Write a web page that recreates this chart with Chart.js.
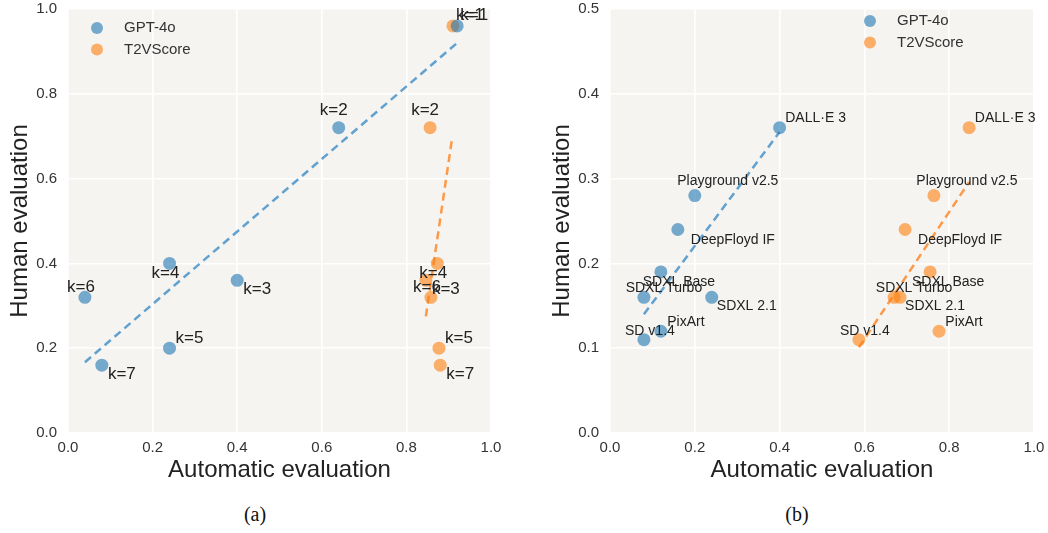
<!DOCTYPE html>
<html>
<head>
<meta charset="utf-8">
<script src="https://cdn.jsdelivr.net/npm/chart.js@4/dist/chart.umd.min.js"></script>
<style>
  html, body { margin: 0; padding: 0; background: #fff; }
  body { width: 1048px; height: 533px; position: relative; overflow: hidden; }
  .panel { position: absolute; top: 0; height: 490px; }
  #panelA { left: 0; width: 520px; }
  #panelB { left: 542px; width: 506px; }
  .caption { position: absolute; top: 503px; font: 20px "Liberation Serif", "DejaVu Serif", serif; color: #111; transform: translateX(-50%); }
</style>
</head>
<body>
<div class="panel" id="panelA"><canvas id="chartA"></canvas></div>
<div class="panel" id="panelB"><canvas id="chartB"></canvas></div>
<div class="caption" style="left:255px">(a)</div>
<div class="caption" style="left:797px">(b)</div>
<script>
// (a) number of frames k
const kLabels = ["k=1", "k=2", "k=3", "k=4", "k=5", "k=6", "k=7"];
const humanA = [0.96, 0.72, 0.36, 0.40, 0.20, 0.32, 0.16];
const gptA = [0.92, 0.64, 0.40, 0.24, 0.24, 0.04, 0.08];
const t2vA = [0.91, 0.856, 0.846, 0.873, 0.877, 0.858, 0.88];
const gptFitAX = [0.04, 0.92];
const gptFitAY = [0.167, 0.92];
const t2vFitAX = [0.846, 0.908];
const t2vFitAY = [0.275, 0.695];

// (b) models
const modelLabels = ["DALL·E 3", "Playground v2.5", "DeepFloyd IF", "SDXL Base", "SDXL Turbo", "SDXL 2.1", "PixArt", "SD v1.4"];
const humanB = [0.36, 0.28, 0.24, 0.19, 0.16, 0.16, 0.12, 0.11];
const gptB = [0.40, 0.20, 0.16, 0.12, 0.08, 0.24, 0.12, 0.08];
const t2vB = [0.847, 0.764, 0.696, 0.755, 0.67, 0.684, 0.776, 0.587];
const gptFitBX = [0.08, 0.40];
const gptFitBY = [0.14, 0.355];
const t2vFitBX = [0.587, 0.847];
const t2vFitBY = [0.101, 0.296];

const xTicks = [0, 0.2, 0.4, 0.6, 0.8, 1.0];
const yTicksA = [0, 0.2, 0.4, 0.6, 0.8, 1.0];
const yTicksB = [0, 0.1, 0.2, 0.3, 0.4, 0.5];

// label placement (text centre relative to the point, px)
const kOffsets = [[17, -11], [-5, -17], [20, 9], [-4, 10], [20, -10], [-4, -10], [20, 9]];
const modelOffsets = [[36, -10], [33, -14], [55, 11], [18, 10], [20, -9], [35, 9], [25, -9], [6, -9]];

const BLUE = "rgba(31,119,180,0.6)";
const ORANGE = "rgba(255,127,14,0.6)";
const BLUE_LINE = "rgba(60,140,200,0.8)";
const ORANGE_LINE = "rgba(255,130,30,0.8)";

Chart.defaults.font.family = '"Liberation Sans", Arial, sans-serif';
Chart.defaults.animation = false;

const zip = (xs, ys) => xs.map((x, i) => ({ x, y: ys[i] }));

const bgPlugin = {
  id: "plotBg",
  beforeDraw(chart) {
    const { ctx, chartArea: a } = chart;
    ctx.save();
    ctx.fillStyle = "#f5f4f1";
    ctx.fillRect(a.left, a.top, a.right - a.left, a.bottom - a.top);
    ctx.restore();
  },
};

const labelPlugin = {
  id: "pointLabels",
  afterDatasetsDraw(chart, args, opts) {
    const ctx = chart.ctx;
    ctx.save();
    ctx.font = opts.font;
    ctx.fillStyle = "#222";
    ctx.textAlign = "center";
    ctx.textBaseline = "middle";
    chart.data.datasets.forEach((ds, i) => {
      if (!ds.pointNames) return;
      chart.getDatasetMeta(i).data.forEach((pt, j) => {
        const [dx, dy] = opts.offsets[j];
        ctx.fillText(ds.pointNames[j], pt.x + dx, pt.y + dy);
      });
    });
    ctx.restore();
  },
};

const legendPlugin = {
  id: "innerLegend",
  afterDraw(chart, args, opts) {
    const { ctx, chartArea: a } = chart;
    const items = chart.data.datasets.filter((d) => d.pointNames);
    ctx.save();
    ctx.font = '15px "Liberation Sans", Arial, sans-serif';
    ctx.textBaseline = "middle";
    ctx.textAlign = "left";
    items.forEach((d, i) => {
      const y = a.top + opts.y + i * 21.5;
      ctx.fillStyle = d.backgroundColor;
      ctx.beginPath();
      ctx.arc(a.left + opts.x, y, 6, 0, Math.PI * 2);
      ctx.fill();
      ctx.fillStyle = "#333";
      ctx.fillText(d.label, a.left + opts.x + 27, y);
    });
    ctx.restore();
  },
};

function makeChart(id, cfg) {
  const tickFont = { size: 15 };
  return new Chart(document.getElementById(id), {
    type: "scatter",
    data: {
      datasets: [
        { label: "GPT-4o", data: zip(cfg.gpt, cfg.human), pointNames: cfg.names,
          backgroundColor: BLUE, pointRadius: 6.5, pointBorderWidth: 0, order: 1 },
        { label: "T2VScore", data: zip(cfg.t2v, cfg.human), pointNames: cfg.names,
          backgroundColor: ORANGE, pointRadius: 6.5, pointBorderWidth: 0, order: 1 },
        { label: "gpt fit", data: zip(cfg.gptFitX, cfg.gptFitY), showLine: true,
          borderColor: BLUE_LINE, borderWidth: 2.5, borderDash: [8, 5], pointRadius: 0, order: 2 },
        { label: "t2v fit", data: zip(cfg.t2vFitX, cfg.t2vFitY), showLine: true,
          borderColor: ORANGE_LINE, borderWidth: 2.5, borderDash: [8, 5], pointRadius: 0, order: 2 },
      ],
    },
    options: {
      responsive: true,
      maintainAspectRatio: false,
      layout: { padding: { top: 9, right: cfg.padRight, left: 0, bottom: 0 } },
      scales: {
        x: {
          type: "linear", min: 0, max: 1,
          afterBuildTicks: (s) => { s.ticks = xTicks.map((v) => ({ value: v })); },
          afterFit: (s) => { s.height = 57; s.paddingLeft = 0; s.paddingRight = 0; },
          grid: { color: "#ffffff", lineWidth: 1.6, drawTicks: false },
          border: { display: false },
          ticks: { padding: 6, color: "#333", font: tickFont, callback: (v) => v.toFixed(1) },
          title: { display: true, text: "Automatic evaluation", color: "#222",
            font: { size: 24 }, padding: { top: 0, bottom: 5 } },
        },
        y: {
          type: "linear", min: 0, max: cfg.yMax,
          afterBuildTicks: (s) => { s.ticks = cfg.yTicks.map((v) => ({ value: v })); },
          afterFit: (s) => { s.width = 68; s.paddingTop = 0; s.paddingBottom = 0; },
          grid: { color: "#ffffff", lineWidth: 1.6, drawTicks: false },
          border: { display: false },
          ticks: { padding: 11, color: "#333", font: tickFont, callback: (v) => v.toFixed(1) },
          title: { display: true, text: "Human evaluation", color: "#222",
            font: { size: 24 }, padding: { top: 6, bottom: 0 } },
        },
      },
      plugins: {
        legend: { display: false },
        tooltip: { enabled: false },
        pointLabels: { font: cfg.labelFont, offsets: cfg.offsets },
        innerLegend: cfg.legend,
      },
    },
    plugins: [bgPlugin, labelPlugin, legendPlugin],
  });
}

makeChart("chartA", {
  names: kLabels, human: humanA, gpt: gptA, t2v: t2vA,
  gptFitX: gptFitAX, gptFitY: gptFitAY, t2vFitX: t2vFitAX, t2vFitY: t2vFitAY,
  yMax: 1, yTicks: yTicksA, padRight: 29, offsets: kOffsets,
  labelFont: '17px "Liberation Sans", Arial, sans-serif', legend: { x: 29, y: 19 },
});

makeChart("chartB", {
  names: modelLabels, human: humanB, gpt: gptB, t2v: t2vB,
  gptFitX: gptFitBX, gptFitY: gptFitBY, t2vFitX: t2vFitBX, t2vFitY: t2vFitBY,
  yMax: 0.5, yTicks: yTicksB, padRight: 14, offsets: modelOffsets,
  labelFont: '14px "Liberation Sans", Arial, sans-serif', legend: { x: 260, y: 12 },
});
</script>
</body>
</html>
